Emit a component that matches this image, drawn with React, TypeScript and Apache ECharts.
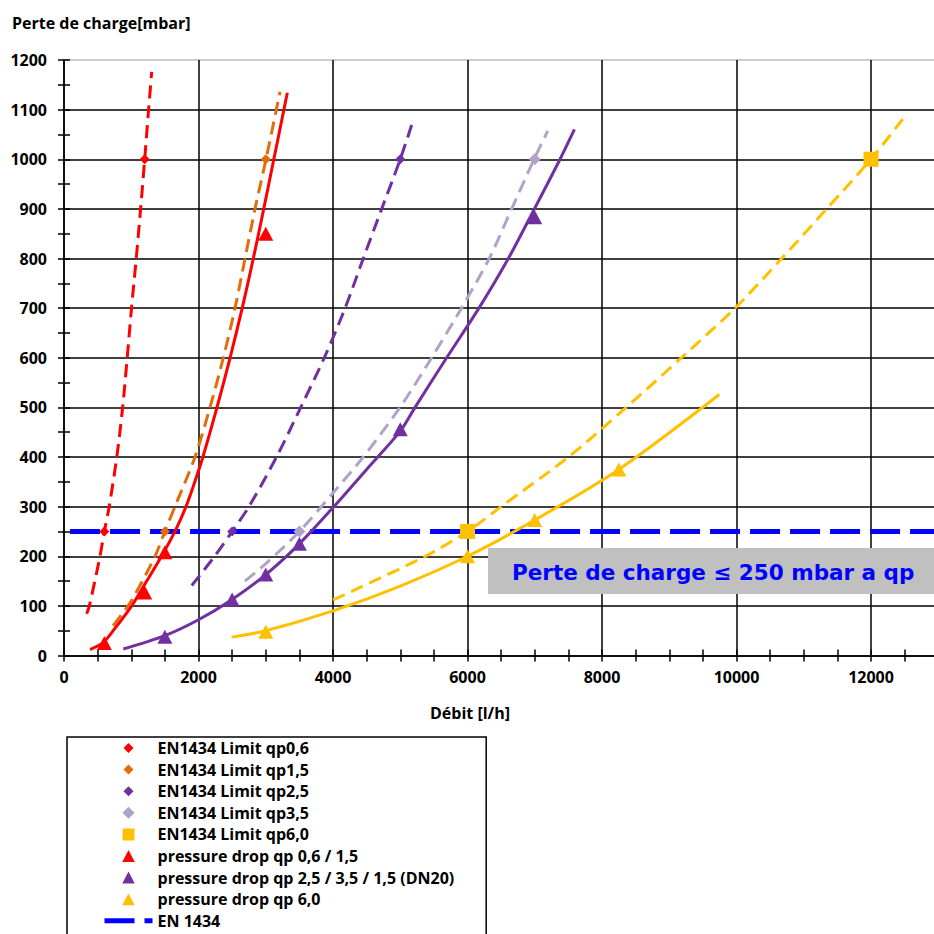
import React, { useEffect, useRef } from "react";
import * as echarts from "echarts";

// ---- data ----
const limit06 = [[600, 250], [1200, 1000]];
const limit15 = [[1500, 250], [3000, 1000]];
const limit25 = [[2500, 250], [5000, 1000]];
const limit35 = [[3500, 250], [7000, 1000]];
const limit60 = [[6000, 250], [12000, 1000]];
const drop0615 = [[600, 25], [1200, 127], [1500, 208], [3000, 850]];
const drop2535 = [[1500, 38], [2500, 113], [3000, 163], [3500, 225], [5000, 456], [7000, 883]];
const drop60 = [[3000, 48], [6000, 200], [7000, 273], [8250, 375]];

const trend06 = [[337, 84], [377, 100], [535, 200], [600, 250], [672, 300], [785, 400], [872, 500], [940, 600], [1004, 700], [1074, 800], [1139, 900], [1200, 1000], [1258, 1100], [1304, 1176]];
const trend15 = [[730, 60], [1000, 110], [1353, 200], [1500, 250], [1680, 310], [1948, 400], [2171, 500], [2369, 600], [2543, 700], [2692, 800], [2840, 900], [3004, 1000], [3212, 1136]];
const trend25 = [[1900, 141], [2240, 200], [2500, 250], [2750, 300], [3160, 400], [3520, 500], [3870, 600], [4180, 700], [4450, 800], [4724, 900], [5000, 1000], [5194, 1079]];
const trend35 = [[2690, 150], [3000, 185], [3500, 250], [4015, 330], [4450, 400], [4996, 500], [5467, 600], [5910, 700], [6323, 800], [6657, 900], [6990, 1000], [7193, 1057]];
const trend60 = [[4000, 112], [5344, 198], [6000, 250], [6500, 300], [7500, 400], [8360, 500], [9180, 600], [9978, 700], [10672, 800], [11341, 900], [12000, 1000], [12471, 1081]];
const curve0615 = [[387, 12], [580, 26], [731, 50], [1007, 100], [1230, 150], [1450, 200], [1650, 250], [1814, 300], [1945, 350], [2065, 400], [2275, 500], [2470, 600], [2650, 700], [2815, 800], [2970, 900], [3120, 1000], [3270, 1100], [3321, 1134]];
const curve2535 = [[882, 13], [1500, 40], [2000, 72], [2500, 113], [3000, 163], [3500, 225], [4000, 298], [4500, 375], [5000, 452], [5220, 500], [5690, 600], [6170, 700], [6607, 800], [6995, 900], [7376, 1000], [7590, 1060]];
const curve60 = [[2493, 37], [3000, 50], [4000, 90], [5000, 140], [6000, 200], [7000, 273], [8250, 375], [9745, 526]];
const en1434 = [[90, 250], [14000, 250]];

const legendNames = [
  "EN1434 Limit qp0,6",
  "EN1434 Limit qp1,5",
  "EN1434 Limit qp2,5",
  "EN1434 Limit qp3,5",
  "EN1434 Limit qp6,0",
  "pressure drop qp 0,6 / 1,5",
  "pressure drop qp 2,5 / 3,5 / 1,5 (DN20)",
  "pressure drop qp 6,0",
  "EN 1434",
];
const yTitle = "Perte de charge[mbar]";
const xTitle = "Débit [l/h]";
const noteText = "Perte de charge ≤ 250 mbar a qp";

const RED = "#FF0000";
const ORANGE = "#E46C0A";
const PURPLE = "#7030A0";
const LILAC = "#B3A2C7";
const GOLD = "#FFC000";
const BLUE = "#0000FF";
const FONT = "'Open Sans', Lato, sans-serif";

// legend icons: 48x12 box with the mark drawn in the middle (corner dots keep the box size)
const BOX = "M0 0L0.01 0ZM48 12L47.99 12Z";
const ICON_DIAMOND = "path://" + BOX + "M24 1L29 6L24 11L19 6Z";
const ICON_DIAMOND_L = "path://" + BOX + "M24 0L30 6L24 12L18 6Z";
const ICON_SQUARE = "path://" + BOX + "M17.5 -0.5L30.5 -0.5L30.5 12.5L17.5 12.5Z";
const ICON_TRIANGLE = "path://" + BOX + "M24 -0.5L30.5 12L17.5 12Z";
const legendIcons = [ICON_DIAMOND, ICON_DIAMOND, ICON_DIAMOND, ICON_DIAMOND_L, ICON_SQUARE, ICON_TRIANGLE, ICON_TRIANGLE, ICON_TRIANGLE];

function scatter(name: string, data: number[][], color: string, symbol: string, size: any) {
  return {
    name, type: "scatter", data, symbol, symbolSize: size,
    itemStyle: { color, opacity: 1 }, z: 5, silent: true,
  };
}
function trend(name: string, data: number[][], color: string, dashed: boolean) {
  return {
    name, type: "line", data, symbol: "none", showSymbol: false,
    smooth: 0.3, silent: true, z: 3,
    lineStyle: { color, width: 3, type: dashed ? [13, 7] : "solid" },
  };
}

const tickStyle = { color: "#000", width: 1.5 };

export default function App() {
  const ref = useRef<HTMLDivElement>(null);
  useEffect(() => {
    const chart = echarts.init(ref.current!, null, { renderer: "svg" });
    const yGridColors = Array.from({ length: 13 }, (_, i) => (i === 12 ? "#BDBDBD" : "#000"));
    const legendData = legendNames.map((name, i) =>
      i === 8
        ? {
            name,
            lineStyle: { color: BLUE, width: 5, type: [30, 10] },
            itemStyle: { color: "rgba(0,0,0,0)", borderWidth: 0, opacity: 0 },
          }
        : { name, icon: legendIcons[i], itemStyle: { borderWidth: 0 } }
    );
    chart.setOption({
      animation: false,
      backgroundColor: "#fff",
      grid: { left: 64, top: 60, width: 941.5, bottom: 278.5, outerBoundsMode: "none", containLabel: false },
      xAxis: [
        {
          type: "value", min: 0, max: 14000, interval: 2000, position: "bottom",
          axisLine: { show: true, onZero: false, lineStyle: tickStyle },
          axisTick: { show: true, length: 6, lineStyle: tickStyle },
          minorTick: { show: true, splitNumber: 4, length: 6, lineStyle: tickStyle },
          axisLabel: {
            margin: 13, color: "#000", fontFamily: FONT, fontWeight: "bold", fontSize: 16,
            formatter: (v: number) => (v > 12000 ? "" : String(v)),
          },
          splitLine: { show: true, lineStyle: { color: "#000", width: 1.5 } },
        },
        {
          type: "value", min: 0, max: 14000, interval: 2000, position: "bottom",
          axisLine: { show: false },
          axisTick: { show: true, inside: true, length: 6, lineStyle: tickStyle },
          minorTick: { show: true, splitNumber: 4, length: 6, lineStyle: tickStyle },
          axisLabel: { show: false },
          splitLine: { show: false },
        },
      ],
      yAxis: [
        {
          type: "value", min: 0, max: 1200, interval: 100, position: "left",
          axisLine: { show: true, onZero: false, lineStyle: tickStyle },
          axisTick: { show: true, length: 6, lineStyle: tickStyle },
          minorTick: { show: true, splitNumber: 2, length: 6, lineStyle: tickStyle },
          axisLabel: {
            margin: 17, color: "#000", fontFamily: FONT, fontWeight: "bold", fontSize: 16,
            formatter: (v: number) => String(v),
          },
          splitLine: { show: true, lineStyle: { color: yGridColors, width: 1.5 } },
        },
        {
          type: "value", min: 0, max: 1200, interval: 100, position: "left",
          axisLine: { show: false },
          axisTick: { show: true, inside: true, length: 6, lineStyle: tickStyle },
          minorTick: { show: true, splitNumber: 2, length: 6, lineStyle: tickStyle },
          axisLabel: { show: false },
          splitLine: { show: false },
        },
      ],
      legend: {
        orient: "vertical", left: 67, top: 737, height: 400,
        itemWidth: 48, itemHeight: 12, itemGap: 5.6,
        padding: [3, 32, 14, 35],
        borderColor: "#000", borderWidth: 1.5, backgroundColor: "#fff",
        selectedMode: false,
        textStyle: { fontFamily: FONT, fontWeight: "bold", fontSize: 16, color: "#000" },
        data: legendData,
      },
      series: [
        {
          name: legendNames[8], type: "line", data: en1434, symbol: "none", showSymbol: false,
          silent: true, z: 2,
          lineStyle: { color: BLUE, width: 5, type: [30, 10] },
        },
        trend("t06", trend06, RED, true),
        trend("t15", trend15, ORANGE, true),
        trend("t25", trend25, PURPLE, true),
        trend("t35", trend35, LILAC, true),
        trend("t60", trend60, GOLD, true),
        trend("c0615", curve0615, RED, false),
        trend("c2535", curve2535, PURPLE, false),
        trend("c60", curve60, GOLD, false),
        scatter(legendNames[0], limit06, RED, "diamond", 10),
        scatter(legendNames[1], limit15, ORANGE, "diamond", 10),
        scatter(legendNames[2], limit25, PURPLE, "diamond", 10),
        scatter(legendNames[3], limit35, LILAC, "diamond", 12),
        scatter(legendNames[4], limit60, GOLD, "rect", 15),
        scatter(legendNames[5], drop0615, RED, "triangle", [15, 14]),
        scatter(legendNames[6], drop2535, PURPLE, "triangle", [15, 14]),
        scatter(legendNames[7], drop60, GOLD, "triangle", [15, 14]),
      ],
      graphic: [
        {
          type: "rect", z: 100,
          shape: { x: 488, y: 548, width: 470, height: 46 },
          style: { fill: "#C0C0C0" },
        },
        {
          type: "text", z: 101, x: 512, y: 572,
          style: {
            text: noteText, fill: BLUE, font: "bold 21.5px 'DejaVu Sans'",
            verticalAlign: "middle", textVerticalAlign: "middle",
          },
        },
        {
          type: "text", z: 101, x: 12, y: 23,
          style: {
            text: yTitle, fill: "#000", font: `bold 16px ${FONT}`,
            verticalAlign: "middle", textVerticalAlign: "middle",
          },
        },
        {
          type: "text", z: 101, x: 470, y: 713,
          style: {
            text: xTitle, fill: "#000", font: `bold 16px ${FONT}`,
            align: "center", textAlign: "center",
            verticalAlign: "middle", textVerticalAlign: "middle",
          },
        },
      ],
    });
    return () => chart.dispose();
  }, []);
  return (
    <div
      ref={ref}
      style={{ position: "fixed", left: 0, top: 0, width: 934, height: 934, background: "#fff" }}
    />
  );
}
